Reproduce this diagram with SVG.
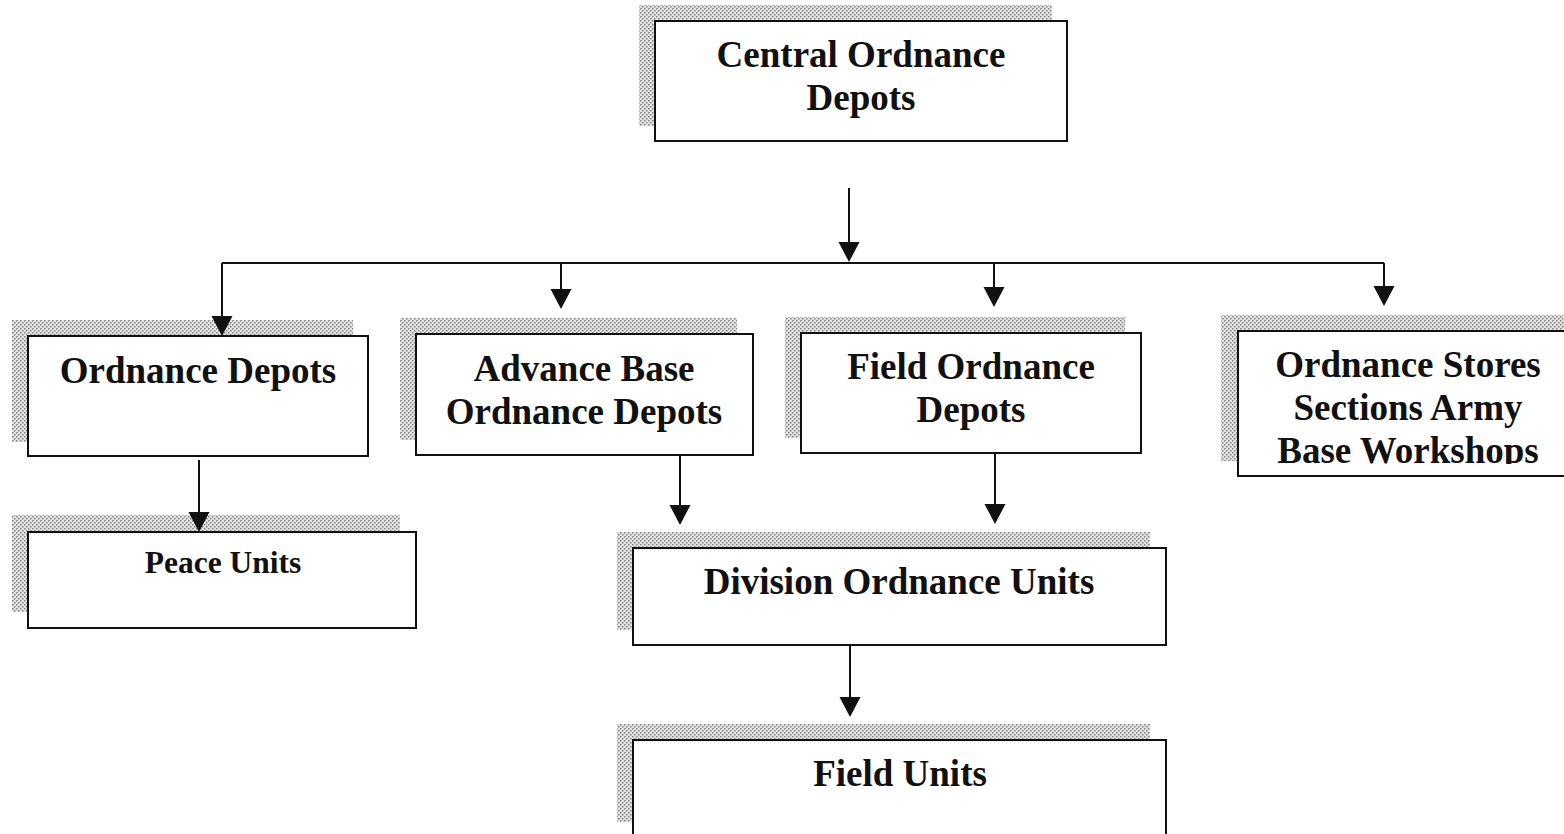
<svg xmlns="http://www.w3.org/2000/svg" width="1564" height="834" viewBox="0 0 1564 834">
<defs>
<pattern id="dots" width="4" height="4" patternUnits="userSpaceOnUse">
<rect width="4" height="4" fill="#e2e2e2"/>
<rect x="0" y="0" width="1.5" height="1.5" fill="#858585"/>
<rect x="2" y="2" width="1.5" height="1.5" fill="#858585"/>
</pattern>
<clipPath id="clipStores"><rect x="1230" y="330" width="340" height="134"/></clipPath>
</defs>
<style>
.shadow{fill:url(#dots);}
.box{fill:#fff;stroke:#111;stroke-width:2;}
.t{font-family:"Liberation Serif","Times New Roman",serif;font-weight:bold;font-size:37px;fill:#111;text-anchor:middle;}
.ts{font-size:31.5px;}
.ln{stroke:#111;stroke-width:2;fill:none;}
.ah{fill:#111;}
</style>
<rect width="1564" height="834" fill="#fff"/>

<g id="central">
<rect class="shadow" x="639" y="5" width="413" height="121"/>
<rect class="box" x="655" y="21" width="412" height="120"/>
<text class="t" x="861" y="67">Central Ordnance</text>
<text class="t" x="861" y="110">Depots</text>
</g>

<g id="ordnance-depots">
<rect class="shadow" x="12" y="320" width="341" height="122"/>
<rect class="box" x="28" y="336" width="340" height="120"/>
<text class="t" x="198" y="383">Ordnance Depots</text>
</g>

<g id="advance-base">
<rect class="shadow" x="400" y="318" width="337" height="122"/>
<rect class="box" x="416" y="334" width="337" height="121"/>
<text class="t" x="584" y="381">Advance Base</text>
<text class="t" x="584" y="424">Ordnance Depots</text>
</g>

<g id="field-ordnance-depots">
<rect class="shadow" x="785" y="317" width="340" height="121"/>
<rect class="box" x="801" y="333" width="340" height="120"/>
<text class="t" x="971" y="379">Field Ordnance</text>
<text class="t" x="971" y="422">Depots</text>
</g>

<g id="ordnance-stores">
<rect class="shadow" x="1221" y="315" width="360" height="146"/>
<rect class="box" x="1238" y="331" width="340" height="145"/>
<g clip-path="url(#clipStores)">
<text class="t" x="1408" y="377">Ordnance Stores</text>
<text class="t" x="1408" y="420">Sections Army</text>
<text class="t" x="1408" y="463">Base Workshops</text>
</g>
</g>

<g id="peace-units">
<rect class="shadow" x="12" y="515" width="388" height="97"/>
<rect class="box" x="28" y="532" width="388" height="96"/>
<text class="t ts" x="223" y="573">Peace Units</text>
</g>

<g id="division-ordnance-units">
<rect class="shadow" x="617" y="532" width="533" height="98"/>
<rect class="box" x="633" y="548" width="533" height="97"/>
<text class="t" x="899" y="594">Division Ordnance Units</text>
</g>

<g id="field-units">
<rect class="shadow" x="617" y="724" width="533" height="98"/>
<rect class="box" x="633" y="740" width="533" height="100"/>
<text class="t" x="900" y="786">Field Units</text>
</g>

<g id="connectors">
<line class="ln" x1="849" y1="188" x2="849" y2="245"/>
<path class="ah" d="M838.5,242 L859.5,242 L849,262 Z"/>
<line class="ln" x1="222" y1="263" x2="1384" y2="263"/>
<line class="ln" x1="222" y1="263" x2="222" y2="318"/>
<path class="ah" d="M211.5,316 L232.5,316 L222,336 Z"/>
<line class="ln" x1="561" y1="263" x2="561" y2="291"/>
<path class="ah" d="M550.5,289 L571.5,289 L561,309 Z"/>
<line class="ln" x1="994" y1="263" x2="994" y2="289"/>
<path class="ah" d="M983.5,287 L1004.5,287 L994,307 Z"/>
<line class="ln" x1="1384" y1="263" x2="1384" y2="288"/>
<path class="ah" d="M1373.5,286 L1394.5,286 L1384,306 Z"/>
<line class="ln" x1="199" y1="460" x2="199" y2="514"/>
<path class="ah" d="M188.5,512 L209.5,512 L199,532 Z"/>
<line class="ln" x1="680" y1="455" x2="680" y2="507"/>
<path class="ah" d="M669.5,505 L690.5,505 L680,525 Z"/>
<line class="ln" x1="995" y1="453" x2="995" y2="506"/>
<path class="ah" d="M984.5,504 L1005.5,504 L995,524 Z"/>
<line class="ln" x1="850" y1="645" x2="850" y2="699"/>
<path class="ah" d="M839.5,697 L860.5,697 L850,717 Z"/>
</g>
</svg>
